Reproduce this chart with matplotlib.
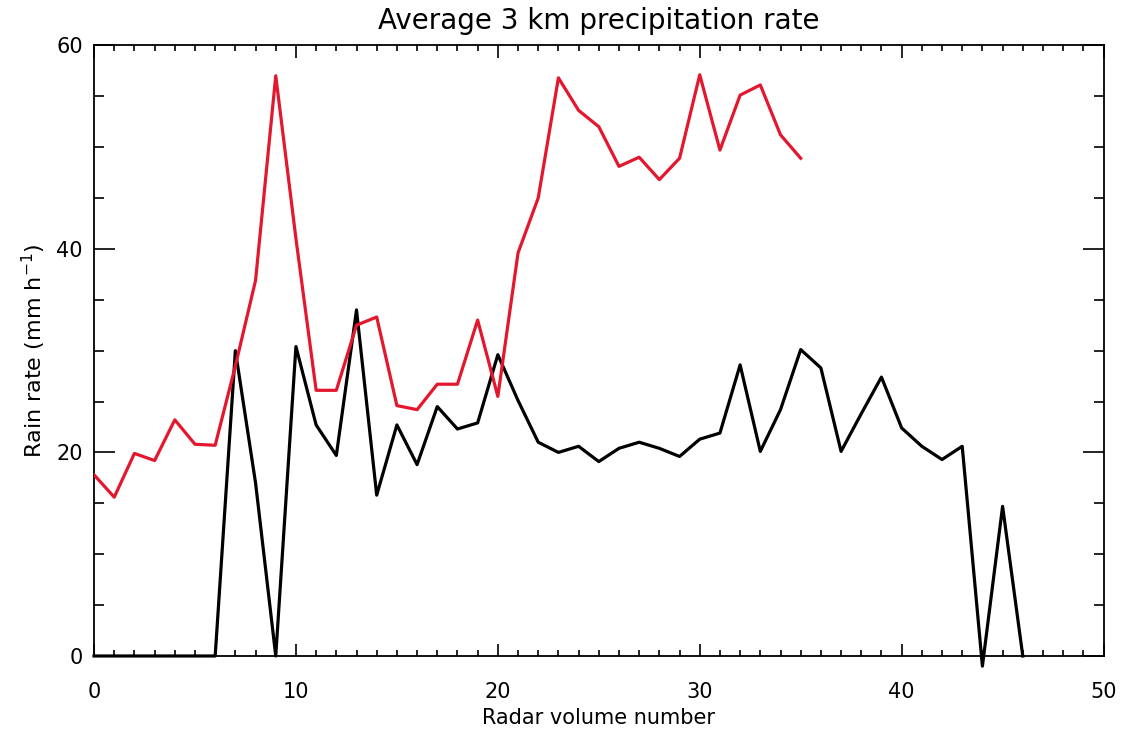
import matplotlib
matplotlib.use("Agg")
import matplotlib.pyplot as plt
from matplotlib.ticker import MultipleLocator

# Red series: volumes 0..35
red_x = list(range(36))
red_y = [17.8, 15.6, 19.9, 19.2, 23.2, 20.8, 20.7, 28.5, 36.9, 57.0,
         41.0, 26.1, 26.1, 32.5, 33.3, 24.6, 24.2, 26.7, 26.7, 33.0,
         25.5, 39.6, 45.0, 56.8, 53.6, 52.0, 48.1, 49.0, 46.8, 48.9,
         57.1, 49.7, 55.1, 56.1, 51.2, 48.9]

# Black series: volumes 0..46
black_x = list(range(47))
black_y = [0, 0, 0, 0, 0, 0, 0, 30.0, 17.0, 0,
           30.4, 22.7, 19.7, 34.0, 15.8, 22.7, 18.8, 24.5, 22.3, 22.9,
           29.6, 25.1, 21.0, 20.0, 20.6, 19.1, 20.4, 21.0, 20.4, 19.6,
           21.3, 21.9, 28.6, 20.1, 24.2, 30.1, 28.3, 20.1, 23.8, 27.4,
           22.4, 20.6, 19.3, 20.6, -1.0, 14.7, 0]

fig = plt.figure(figsize=(11.33, 7.30), dpi=100)
ax = fig.add_axes([0.083, 0.1014, 0.891, 0.8366])

ax.plot(black_x, black_y, color='black', linewidth=2.3, clip_on=False, zorder=3)
ax.plot(red_x, red_y, color='#e3172e', linewidth=2.3, zorder=4)

ax.set_xlim(0, 50)
ax.set_ylim(0, 60)
ax.xaxis.set_major_locator(MultipleLocator(10))
ax.xaxis.set_minor_locator(MultipleLocator(1))
ax.yaxis.set_major_locator(MultipleLocator(20))
ax.yaxis.set_minor_locator(MultipleLocator(5))
ax.tick_params(which='both', direction='in', top=True, right=True,
               labelsize=15, width=1.2)
# x ticks are shorter than y ticks in the original
ax.tick_params(axis='x', which='major', length=9, pad=19)
ax.tick_params(axis='x', which='minor', length=4.5)
ax.tick_params(axis='y', which='major', length=15, pad=8)
ax.tick_params(axis='y', which='minor', length=7)
for s in ax.spines.values():
    s.set_linewidth(1.3)

ax.set_title("Average 3 km precipitation rate", fontsize=20, pad=12)
ax.set_xlabel("Radar volume number", fontsize=15, labelpad=4)
ax.set_ylabel("Rain rate (mm h$^{-1}$)", fontsize=16, labelpad=6)

fig.savefig("out.png", dpi=100)
